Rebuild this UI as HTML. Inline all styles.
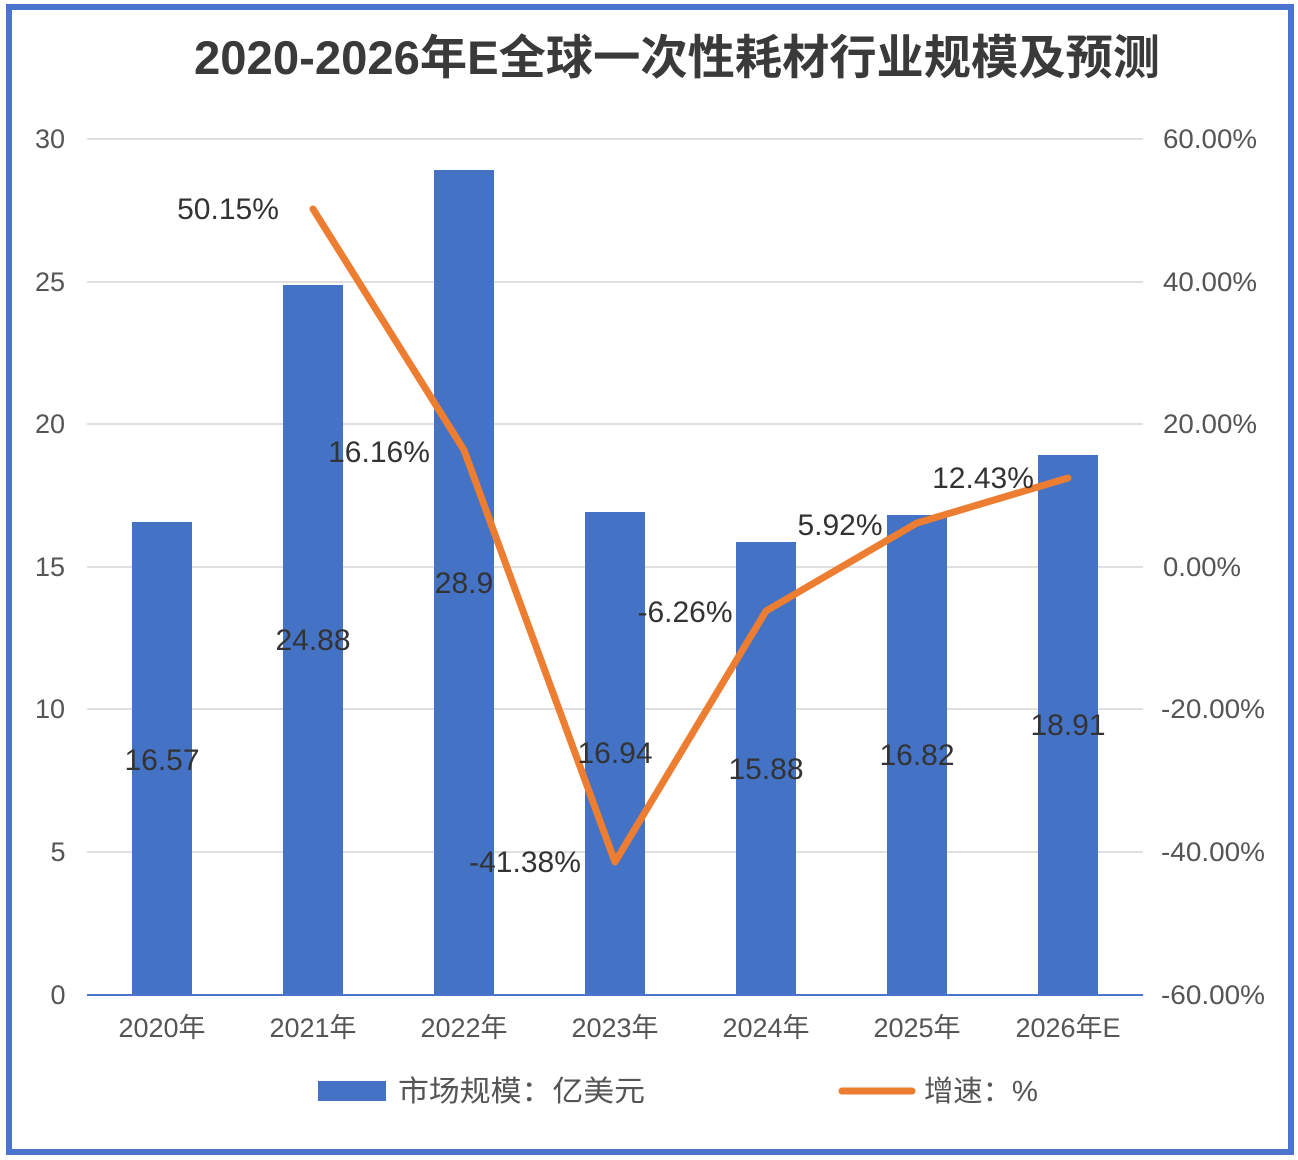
<!DOCTYPE html>
<html><head><meta charset="utf-8"><style>
html,body{margin:0;padding:0;background:#fff;}
svg{display:block;font-family:"Liberation Sans","Noto Sans CJK SC",sans-serif;}
</style></head><body>
<svg width="1298" height="1160" viewBox="0 0 1298 1160">
<rect x="0" y="0" width="1298" height="1160" fill="#fff"/>
<rect x="9" y="7" width="1282" height="1145" fill="#fff" stroke="#4a74cd" stroke-width="6"/>
<text x="677" y="74" text-anchor="middle" font-size="47" font-weight="bold" fill="#3a3a3a" textLength="966" lengthAdjust="spacingAndGlyphs">2020-2026年E全球一次性耗材行业规模及预测</text>
<g stroke="#e0e0e0" stroke-width="2">
<line x1="87" x2="1143" y1="139" y2="139"/><line x1="87" x2="1143" y1="282" y2="282"/>
<line x1="87" x2="1143" y1="424" y2="424"/><line x1="87" x2="1143" y1="567" y2="567"/>
<line x1="87" x2="1143" y1="709" y2="709"/><line x1="87" x2="1143" y1="852" y2="852"/>
</g>
<g font-size="27" fill="#555" text-anchor="middle">
<text x="50" y="148">30</text><text x="50" y="291">25</text><text x="50" y="433">20</text>
<text x="50" y="576">15</text><text x="50" y="718">10</text><text x="58" y="861">5</text><text x="58" y="1004">0</text>
</g>
<g font-size="27" fill="#555" text-anchor="middle">
<text x="1210" y="148" textLength="94" lengthAdjust="spacingAndGlyphs">60.00%</text><text x="1210" y="291" textLength="94" lengthAdjust="spacingAndGlyphs">40.00%</text><text x="1210" y="433" textLength="94" lengthAdjust="spacingAndGlyphs">20.00%</text>
<text x="1202" y="576" textLength="78" lengthAdjust="spacingAndGlyphs">0.00%</text><text x="1213" y="718" textLength="104" lengthAdjust="spacingAndGlyphs">-20.00%</text><text x="1213" y="861" textLength="104" lengthAdjust="spacingAndGlyphs">-40.00%</text><text x="1213" y="1004" textLength="104" lengthAdjust="spacingAndGlyphs">-60.00%</text>
</g>
<g fill="#4472c4">
<rect x="132" y="522" width="60" height="473"/>
<rect x="283" y="285" width="60" height="710"/>
<rect x="434" y="170" width="60" height="825"/>
<rect x="585" y="512" width="60" height="483"/>
<rect x="736" y="542" width="60" height="453"/>
<rect x="887" y="515" width="60" height="480"/>
<rect x="1038" y="455" width="60" height="540"/>
</g>
<line x1="87" x2="1143" y1="995" y2="995" stroke="#4a74cd" stroke-width="2"/>
<g font-size="27" fill="#555" text-anchor="middle">
<text x="162" y="1037">2020年</text><text x="313" y="1037">2021年</text><text x="464" y="1037">2022年</text>
<text x="615" y="1037">2023年</text><text x="766" y="1037">2024年</text><text x="917" y="1037">2025年</text><text x="1068" y="1037">2026年E</text>
</g>
<polyline points="313,209 464,450 615,862 766,611 917,523 1068,478" fill="none" stroke="#ed7d31" stroke-width="7" stroke-linejoin="round" stroke-linecap="round"/>
<g font-size="30" fill="#333" text-anchor="middle">
<text x="162" y="770">16.57</text><text x="313" y="650">24.88</text><text x="464" y="593">28.9</text>
<text x="615" y="763">16.94</text><text x="766" y="779">15.88</text><text x="917" y="765">16.82</text><text x="1068" y="735">18.91</text>
<text x="228" y="219">50.15%</text><text x="379" y="462">16.16%</text><text x="525" y="872">-41.38%</text>
<text x="685" y="622">-6.26%</text><text x="840" y="535">5.92%</text><text x="983" y="488">12.43%</text>
</g>
<rect x="318" y="1081" width="68" height="20" fill="#4472c4"/>
<text x="398" y="1101" font-size="29" fill="#555" textLength="247" lengthAdjust="spacingAndGlyphs">市场规模：亿美元</text>
<line x1="842" x2="912" y1="1091" y2="1091" stroke="#ed7d31" stroke-width="7" stroke-linecap="round"/>
<text x="924" y="1101" font-size="29" fill="#555" textLength="114" lengthAdjust="spacingAndGlyphs">增速：%</text>
</svg>
</body></html>
